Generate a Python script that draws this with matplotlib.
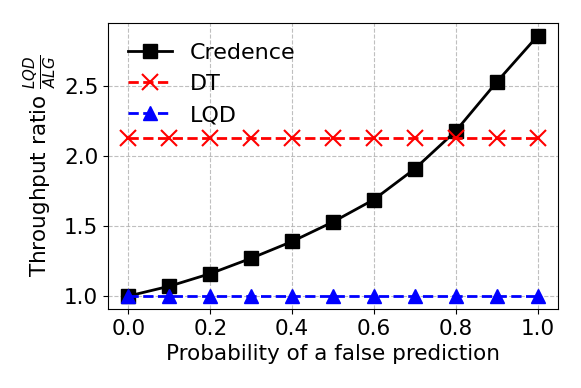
import matplotlib
matplotlib.use("Agg")
import matplotlib.pyplot as plt

x = [0.0, 0.1, 0.2, 0.3, 0.4, 0.5, 0.6, 0.7, 0.8, 0.9, 1.0]
credence = [1.0, 1.07, 1.16, 1.27, 1.39, 1.53, 1.69, 1.91, 2.18, 2.53, 2.86]
dt = [2.13] * 11
lqd = [1.0] * 11

fig = plt.figure(figsize=(5.81, 3.88), dpi=100)
ax = fig.add_axes([108/581, 1 - 309/388, (558-108)/581, (309-23)/388])
ax.plot(x, credence, color='black', marker='s', markersize=10, linewidth=2, label='Credence')
ax.plot(x, dt, color='red', marker='x', markersize=11, markeredgewidth=1.5, linewidth=2, linestyle='--', label='DT')
ax.plot(x, lqd, color='blue', marker='^', markersize=10, linewidth=2, linestyle='--', label='LQD')
ax.grid(True, linestyle='--', color='#b0b0b0', alpha=0.8)
ax.set_xticks([0.0, 0.2, 0.4, 0.6, 0.8, 1.0])
ax.set_yticks([1.0, 1.5, 2.0, 2.5])
ax.tick_params(labelsize=15.5)
ax.set_xlabel('Probability of a false prediction', fontsize=15.5)
ax.set_ylabel(r'Throughput ratio $\frac{LQD}{ALG}$', fontsize=15.5)
ax.legend(loc='upper left', fontsize=16, frameon=False)
fig.savefig('out.png', dpi=100)
